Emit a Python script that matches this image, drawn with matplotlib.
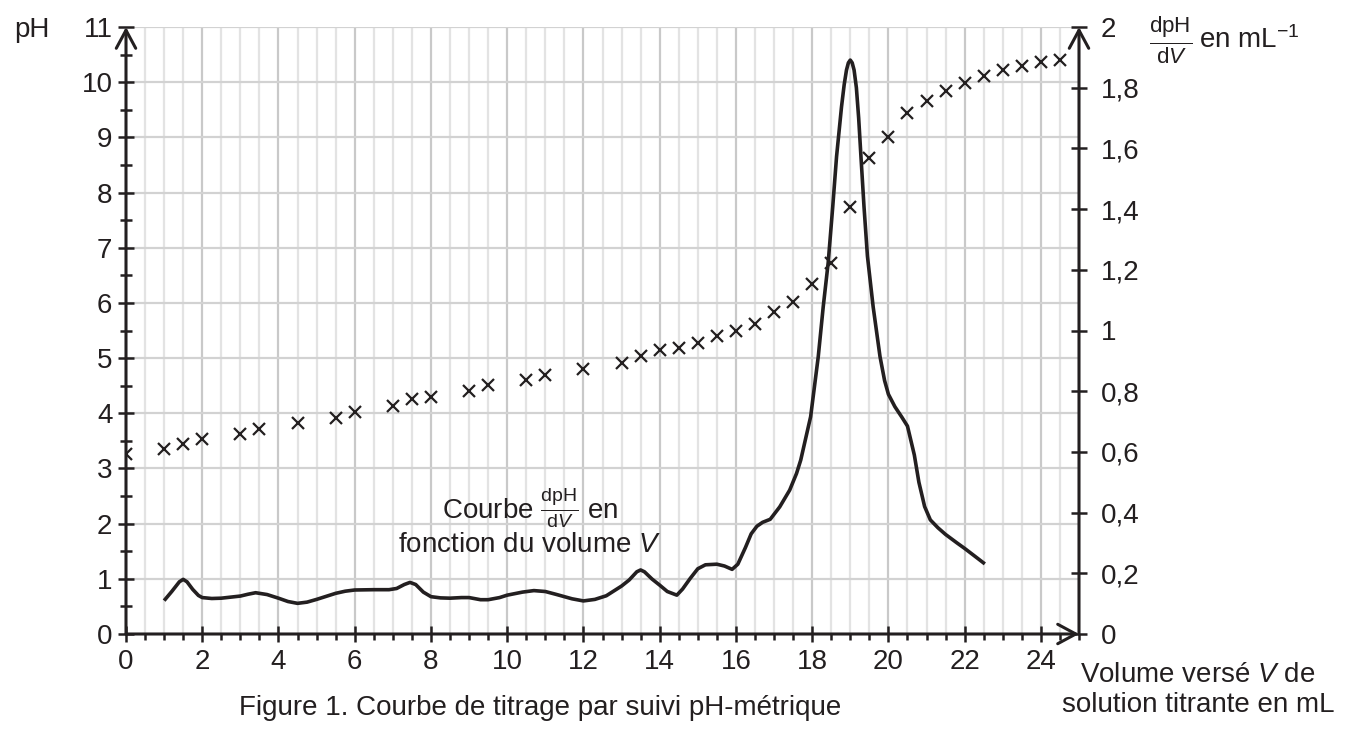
import matplotlib
matplotlib.use("Agg")
import matplotlib.pyplot as plt
from matplotlib.ticker import MultipleLocator, FixedLocator

plt.rcParams['font.family'] = ['Liberation Sans', 'DejaVu Sans']
plt.rcParams['mathtext.fontset'] = 'custom'
plt.rcParams['mathtext.rm'] = 'Liberation Sans'
plt.rcParams['mathtext.it'] = 'Liberation Sans:italic'

INK = '#231f20'
FS = 20

# pH measurements (crosses)
vol_ph = [0, 1, 1.5, 2, 3, 3.5, 4.5, 5.5, 6, 7, 7.5, 8, 9, 9.5, 10.5, 11, 12,
          13, 13.5, 14, 14.5, 15, 15.5, 16, 16.5, 17, 17.5, 18, 18.5, 19, 19.5,
          20, 20.5, 21, 21.5, 22, 22.5, 23, 23.5, 24, 24.5]
ph = [3.27, 3.36, 3.44, 3.53, 3.62, 3.72, 3.82, 3.92, 4.02, 4.13, 4.25, 4.30,
      4.41, 4.51, 4.60, 4.70, 4.81, 4.92, 5.04, 5.14, 5.19, 5.28, 5.40, 5.49,
      5.62, 5.84, 6.01, 6.35, 6.73, 7.74, 8.63, 9.00, 9.44, 9.66, 9.84, 9.99,
      10.11, 10.22, 10.30, 10.36, 10.40]

# derivative curve dpH/dV
vol_d = [1.0, 1.2, 1.4, 1.5, 1.6, 1.75, 1.9, 2.0, 2.25, 2.5, 3.0, 3.2, 3.4,
         3.7, 4.0, 4.25, 4.5, 4.75, 5.0, 5.5, 5.75, 6.0, 6.5, 6.9, 7.1, 7.3,
         7.45, 7.6, 7.8, 8.0, 8.25, 8.5, 8.8, 9.0, 9.3, 9.5, 9.8, 10.0, 10.4,
         10.7, 11.0, 11.3, 11.7, 12.0, 12.3, 12.6, 13.0, 13.2, 13.4, 13.5,
         13.6, 13.8, 14.0, 14.2, 14.45, 14.6, 14.8, 15.0, 15.2, 15.5, 15.7,
         15.9, 16.05, 16.25, 16.4, 16.55, 16.7, 16.9, 17.15, 17.41, 17.59,
         17.7, 17.96, 18.16, 18.29, 18.42, 18.54, 18.64, 18.77, 18.84, 18.9,
         18.95, 19.0, 19.05, 19.1, 19.16, 19.22, 19.28, 19.36, 19.45, 19.6,
         19.78, 19.9, 20.0, 20.17, 20.35, 20.5, 20.68, 20.8, 20.95, 21.1,
         21.3, 21.5, 21.8, 22.0, 22.25, 22.53]
dph_dv = [0.110, 0.140, 0.172, 0.180, 0.172, 0.147, 0.127, 0.120, 0.117,
          0.118, 0.125, 0.131, 0.136, 0.130, 0.118, 0.107, 0.101, 0.105,
          0.114, 0.134, 0.141, 0.145, 0.146, 0.146, 0.150, 0.163, 0.170,
          0.163, 0.138, 0.123, 0.119, 0.118, 0.120, 0.120, 0.113, 0.113,
          0.120, 0.128, 0.138, 0.143, 0.140, 0.130, 0.116, 0.109, 0.114,
          0.126, 0.158, 0.178, 0.205, 0.211, 0.205, 0.181, 0.161, 0.140,
          0.128, 0.148, 0.183, 0.215, 0.228, 0.230, 0.224, 0.213, 0.230,
          0.285, 0.330, 0.355, 0.368, 0.378, 0.419, 0.474, 0.529, 0.573,
          0.716, 0.914, 1.078, 1.223, 1.408, 1.573, 1.737, 1.810, 1.858,
          1.882, 1.891, 1.882, 1.858, 1.800, 1.700, 1.573, 1.408, 1.245,
          1.078, 0.914, 0.835, 0.790, 0.749, 0.715, 0.685, 0.590, 0.500,
          0.420, 0.376, 0.350, 0.328, 0.300, 0.282, 0.258, 0.231]

left_ticks = list(range(0, 12))
bottom_ticks = list(range(0, 25, 2))
right_ticks = [0, 0.2, 0.4, 0.6, 0.8, 1, 1.2, 1.4, 1.6, 1.8, 2]
right_labels = ['0', '0,2', '0,4', '0,6', '0,8', '1', '1,2', '1,4', '1,6', '1,8', '2']

W, H = 1347, 729
fig = plt.figure(figsize=(W / 100, H / 100), dpi=100)
ax = fig.add_axes([126 / W, 1 - 634 / H, (1079 - 126) / W, (634 - 27) / H])
ax.set_xlim(0, 25)
ax.set_ylim(0, 11)
for s in ax.spines.values():
    s.set_visible(False)

# grid
for v in [i * 0.5 for i in range(1, 50)]:
    ax.axvline(v, color='#c9c9c9' if v % 2 == 0 else '#e3e3e3', lw=1.6, zorder=0)
for p in left_ticks[1:]:
    ax.axhline(p, color='#d2d2d2', lw=1.6, zorder=0)

ax.xaxis.set_major_locator(FixedLocator(bottom_ticks))
ax.xaxis.set_minor_locator(MultipleLocator(0.5))
ax.yaxis.set_major_locator(FixedLocator(left_ticks))
ax.yaxis.set_minor_locator(MultipleLocator(0.5))
ax.tick_params(axis='x', which='major', direction='inout', length=11, width=1.8,
               color=INK, labelsize=FS, labelcolor=INK, pad=5)
ax.tick_params(axis='x', which='minor', direction='out', length=4.5, width=1.8, color=INK)
ax.tick_params(axis='y', which='major', direction='inout', length=11.5, width=1.8,
               color=INK, labelsize=FS, labelcolor=INK, pad=4)
ax.tick_params(axis='y', which='minor', direction='inout', length=8, width=1.8, color=INK)

ax.plot(vol_ph, ph, linestyle='none', marker='x', ms=9, mew=1.6, color=INK, zorder=5)

ax2 = ax.twinx()
ax2.set_ylim(0, 2)
for s in ax2.spines.values():
    s.set_visible(False)
ax2.yaxis.set_major_locator(FixedLocator(right_ticks))
ax2.set_yticklabels(right_labels)
ax2.tick_params(axis='y', which='major', direction='inout', length=11.5, width=1.8,
                color=INK, labelsize=FS, labelcolor=INK, pad=10)
ax2.plot(vol_d, dph_dv, color=INK, lw=2.6, solid_joinstyle='round',
         solid_capstyle='butt', zorder=4)

# axes with open arrowheads
arrow = dict(arrowstyle='->,head_length=1.3,head_width=0.7', lw=2.2, color=INK,
             shrinkA=0, shrinkB=0)
ax.annotate('', xy=(0, 11), xytext=(0, 0), arrowprops=arrow, annotation_clip=False)
ax.annotate('', xy=(25, 11), xytext=(25, 0), arrowprops=arrow, annotation_clip=False)
ax.annotate('', xy=(25, 0), xytext=(0, 0), arrowprops=arrow, annotation_clip=False)

fig.text(32 / W, 1 - 30 / H, 'pH', ha='center', va='center', fontsize=FS, color=INK)
fig.text(1171 / W, 1 - 40 / H, r'$\frac{\mathrm{dpH}}{\mathrm{d}V}$',
         ha='center', va='center', fontsize=23, color=INK)
fig.text(1199 / W, 1 - 40 / H, r'en mL$^{\mathregular{-1}}$',
         ha='left', va='center', fontsize=FS, color=INK)
ax.text(10.6, 2.3, r'Courbe $\frac{\mathrm{dpH}}{\mathrm{d}V}$ en', ha='center', va='center',
        fontsize=FS, color=INK)
ax.text(10.6, 1.62, r'fonction du volume $V$', ha='center', va='center', fontsize=FS, color=INK)
fig.text(1198 / W, 1 - 690 / H, 'Volume versé $V$ de\nsolution titrante en mL', ha='center',
         va='center', fontsize=FS, color=INK, linespacing=1.15)
fig.text(540 / W, 1 - 708 / H, 'Figure 1. Courbe de titrage par suivi pH-métrique',
         ha='center', va='center', fontsize=FS, color=INK)

fig.savefig('out.png', dpi=100)
